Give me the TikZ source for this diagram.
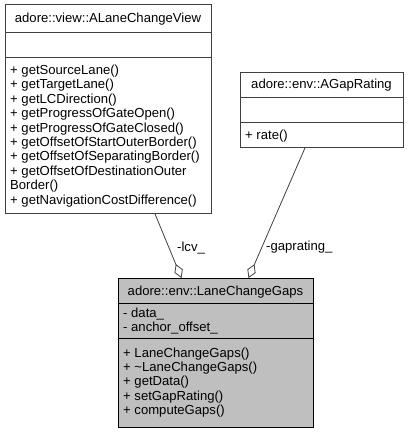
\documentclass[tikz,border=0pt]{standalone}
\usepackage{fontspec}
\setmainfont{Liberation Sans}
\usetikzlibrary{arrows.meta}
\definecolor{boxline}{HTML}{404040}
\definecolor{edgecol}{HTML}{404040}
\definecolor{focusfill}{HTML}{BFBFBF}
\begin{document}
\begin{tikzpicture}[x=1pt,y=-1pt,
  classbox/.style={draw=boxline, line width=0.9pt, fill=white, rectangle, inner sep=0pt, anchor=north west},
  focusbox/.style={classbox, draw=black, fill=focusfill},
  sepline/.style={draw=boxline, line width=0.9pt},
  txt/.style={inner sep=0pt, anchor=base west, font=\fontsize{13.1}{14.4}\selectfont},
  ttl/.style={inner sep=0pt, anchor=base, font=\fontsize{13.1}{14.4}\selectfont},
  edge/.style={draw=edgecol, line width=0.8pt},
  agg/.style={-{Diamond[open,length=15pt,width=9pt,line width=0.8pt]}}
]
\useasboundingbox (0,0) rectangle (408,433);
% ALaneChangeView
\node[classbox, minimum width=206pt, minimum height=209pt] (lv) at (5,4) {};
\draw[sepline] (5,32) -- (211,32);
\draw[sepline] (5,57) -- (211,57);
\node[ttl] (lvt) at (108,22.7) {adore::view::ALaneChangeView};
\node[txt] (lv1) at (10,74.4) {+ getSourceLane()};
\node[txt] (lv2) at (10,88.8) {+ getTargetLane()};
\node[txt] (lv3) at (10,103.2) {+ getLCDirection()};
\node[txt] (lv4) at (10,117.6) {+ getProgressOfGateOpen()};
\node[txt] (lv5) at (10,132.0) {+ getProgressOfGateClosed()};
\node[txt] (lv6) at (10,146.4) {+ getOffsetOfStartOuterBorder()};
\node[txt] (lv7) at (10,160.8) {+ getOffsetOfSeparatingBorder()};
\node[txt] (lv8) at (10,175.2) {+ getOffsetOfDestinationOuter};
\node[txt] (lv9) at (10,189.6) {Border()};
\node[txt] (lv10) at (10,204.0) {+ getNavigationCostDifference()};
% AGapRating
\node[classbox, minimum width=163pt, minimum height=75pt] (ag) at (240,72) {};
\draw[sepline] (240,97) -- (403,97);
\draw[sepline] (240,122) -- (403,122);
\node[ttl] (agt) at (321.5,89) {adore::env::AGapRating};
\node[txt] (ag1) at (245,139) {+ rate()};
% LaneChangeGaps
\node[focusbox, minimum width=195pt, minimum height=149pt] (lcg) at (118,278) {};
\draw[sepline, draw=black] (118,303) -- (313,303);
\draw[sepline, draw=black] (118,338) -- (313,338);
\node[ttl] (lcgt) at (215.5,295) {adore::env::LaneChangeGaps};
\node[txt] (lcga1) at (123,317) {- data\_};
\node[txt] (lcga2) at (123,331.4) {- anchor\_offset\_};
\node[txt] (lcgm1) at (123,357) {+ LaneChangeGaps()};
\node[txt] (lcgm2) at (123,371.4) {+ \textasciitilde LaneChangeGaps()};
\node[txt] (lcgm3) at (123,385.8) {+ getData()};
\node[txt] (lcgm4) at (123,400.2) {+ setGapRating()};
\node[txt] (lcgm5) at (123,414.6) {+ computeGaps()};
% connectors
\draw[edge, agg] ([xshift=150pt]lv.south west) -- ([xshift=63.5pt]lcg.north west);
\draw[edge, agg] ([xshift=65pt]ag.south west) -- ([xshift=130.5pt]lcg.north west);
\node[txt] (llcv) at (177,251) {-lcv\_};
\node[txt] (lgap) at (266,250) {-gaprating\_};
\end{tikzpicture}
\end{document}
